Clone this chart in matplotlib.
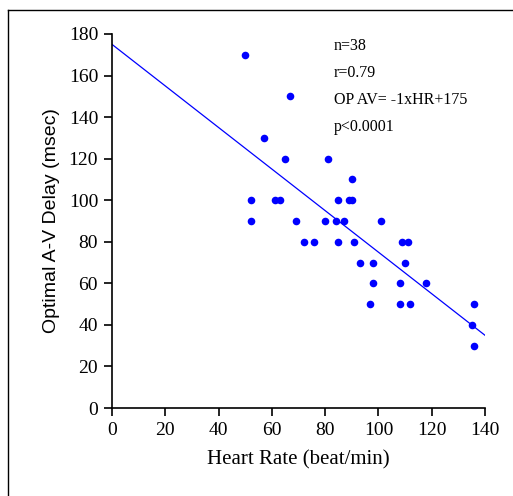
import matplotlib.pyplot as plt
from matplotlib.lines import Line2D
import numpy as np

# heart rate (beat/min) and optimal A-V delay (msec)
heart_rate = [50, 67, 57, 65, 81, 90, 52, 61, 63, 85, 89, 90,
              52, 69, 80, 84, 87, 101, 72, 76, 85, 91, 109, 111,
              93, 98, 110, 98, 108, 118, 97, 108, 112, 136, 135, 136]
av_delay = [170, 150, 130, 120, 120, 110, 100, 100, 100, 100, 100, 100,
            90, 90, 90, 90, 90, 90, 80, 80, 80, 80, 80, 80,
            70, 70, 70, 60, 60, 60, 50, 50, 50, 50, 40, 30]

slope = -1
intercept = 175
fit_x = [0, 140]

stats_lines = ['n=38', 'r=0.79', 'OP AV= -1xHR+175', 'p<0.0001']

plt.switch_backend('AGG')
fig = plt.figure(figsize=(5.13, 4.96), dpi=100)
ax = fig.add_axes([0.2183, 0.1774, 0.7271, 0.7541])

ax.scatter(heart_rate, av_delay, s=30, color='#0000ff', zorder=3, linewidths=0)
fx = np.array(fit_x)
ax.plot(fx, slope * fx + intercept, color='#0000ff', lw=0.9)

ax.set_xlim(0, 140)
ax.set_ylim(0, 180)
ax.set_xticks(range(0, 141, 20))
ax.set_yticks(range(0, 181, 20))
for s in ['top', 'right']:
    ax.spines[s].set_visible(False)
for s in ['left', 'bottom']:
    ax.spines[s].set_linewidth(1.2)
ax.tick_params(direction='out', length=6, width=1.2, labelsize=14, pad=4)
for lab in ax.get_xticklabels() + ax.get_yticklabels():
    lab.set_family('Liberation Serif')

ax.set_xlabel('Heart Rate (beat/min)', family='Liberation Serif', fontsize=15, labelpad=8)
ax.set_ylabel('Optimal A-V Delay (msec)', family='Liberation Sans', fontsize=14, labelpad=6)

for i, t in enumerate(stats_lines):
    fig.text(334 / 513, 1 - (46 + i * 27) / 496, t, family='Liberation Serif',
             fontsize=11.5, va='center', ha='left')

# outer frame
fig.add_artist(Line2D([8 / 513, 1], [1 - 10 / 496, 1 - 10 / 496], color='black', lw=1, transform=fig.transFigure))
fig.add_artist(Line2D([8 / 513, 8 / 513], [0, 1 - 10 / 496], color='black', lw=1, transform=fig.transFigure))

fig.savefig('out.png', dpi=100)
